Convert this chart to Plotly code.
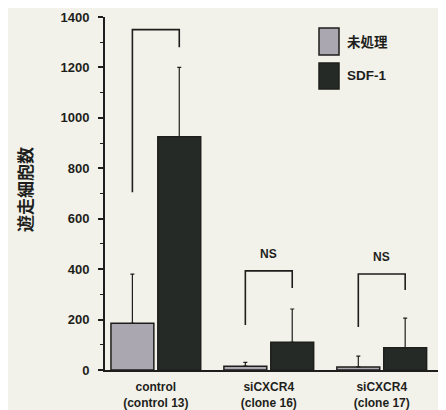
import plotly.graph_objects as go

categories = ["control<br>(control 13)", "siCXCR4<br>(clone 16)", "siCXCR4<br>(clone 17)"]
untreated = [185, 15, 12]
untreated_sd = [195, 15, 43]
sdf1 = [925, 110, 88]
sdf1_sd = [275, 132, 118]
series_names = ["未処理", "SDF-1"]
# bracket: [top, left leg bottom, right leg bottom]
brackets = [[1350, 705, 1280], [393, 178, 325], [381, 171, 317]]
bracket_labels = ["", "NS", "NS"]
y_ticks = [0, 200, 400, 600, 800, 1000, 1200, 1400]

BG = "#f3f2ea"
DARK = "#1e1f1c"
GRAY = "#aba7b0"
BLACK = "#262a26"
FONT = "Liberation Sans"

fig = go.Figure()
fig.add_trace(go.Bar(
    x=categories, y=untreated, name=series_names[0],
    marker=dict(color=GRAY, line=dict(color=DARK, width=1.5)),
    error_y=dict(type="data", array=untreated_sd, arrayminus=[0]*len(untreated_sd),
                 symmetric=False, color=DARK, thickness=1.2, width=2),
    showlegend=False,
))
fig.add_trace(go.Bar(
    x=categories, y=sdf1, name=series_names[1],
    marker=dict(color=BLACK, line=dict(color=DARK, width=1.5)),
    error_y=dict(type="data", array=sdf1_sd, arrayminus=[0]*len(sdf1_sd),
                 symmetric=False, color=DARK, thickness=1.2, width=2),
    showlegend=False,
))

bargap = 0.17
bargroupgap = 0.085
off = (1 - bargap) / 4

# plot area in page pixels (page has an 8px body margin)
W, H = 438, 402
ML, MR, MT, MB = 97, 1, 9, 40
PW = W - ML - MR
PH = H - MT - MB


def px(xp):
    return (xp - 8 - ML) / PW


def py(yp):
    return (H - MB - (yp - 8)) / PH


shapes = []
annotations = []
for i, (b, lab) in enumerate(zip(brackets, bracket_labels)):
    top, lb, rb = b
    shapes.append(dict(
        type="path", xref="x", yref="y",
        path=f"M {i-off},{lb} L {i-off},{top} L {i+off},{top} L {i+off},{rb}",
        line=dict(color=DARK, width=1.6),
    ))
    if lab:
        annotations.append(dict(
            x=i, y=top + 67, xref="x", yref="y", text=lab, showarrow=False,
            font=dict(family=FONT, size=12, color=DARK, weight="bold"),
        ))

# custom legend (page pixel positions)
leg = [(28, 55, GRAY, 42, series_names[0]), (63, 89, BLACK, 76, series_names[1])]
for top, bot, col, ty, name in leg:
    shapes.append(dict(type="rect", xref="paper", yref="paper",
                       x0=px(319), x1=px(339), y0=py(bot), y1=py(top),
                       fillcolor=col, line=dict(color=DARK, width=1.5)))
    annotations.append(dict(x=px(345), y=py(ty), xref="paper", yref="paper", text=name,
                            showarrow=False, xanchor="left", yanchor="middle",
                            font=dict(family=FONT + ", Noto Sans CJK JP", size=13.5,
                                      color=DARK, weight="bold")))

annotations.append(dict(
    x=px(24), y=py(190), xref="paper", yref="paper", text="遊走細胞数",
    textangle=-90, showarrow=False, xanchor="center", yanchor="middle",
    font=dict(family="Noto Sans CJK JP", size=17, color=DARK, weight="bold"),
))

fig.update_layout(
    width=W, height=H,
    margin=dict(l=ML, r=MR, t=MT, b=MB),
    paper_bgcolor=BG, plot_bgcolor=BG,
    barmode="group", bargap=bargap, bargroupgap=bargroupgap,
    shapes=shapes, annotations=annotations,
    font=dict(family=FONT, color=DARK),
    xaxis=dict(
        range=[-0.45, 2.56], showline=True, linecolor=DARK, linewidth=1.5,
        ticks="", showgrid=False, zeroline=False,
        tickfont=dict(family=FONT, size=12, color=DARK, weight="bold"),
        ticklabelstandoff=5,
    ),
    yaxis=dict(
        range=[0, 1400], showline=True, linecolor=DARK, linewidth=2,
        ticks="outside", ticklen=5, tickwidth=1.5, tickcolor=DARK,
        tickvals=y_ticks, showgrid=False, zeroline=False,
        tickfont=dict(family=FONT, size=13, color=DARK, weight="bold"),
        minor=dict(dtick=100, ticks="outside", ticklen=3, tickcolor=DARK, tickwidth=1.2, showgrid=False),
        ticklabelstandoff=6,
    ),
)

fig.write_html("out.html")
